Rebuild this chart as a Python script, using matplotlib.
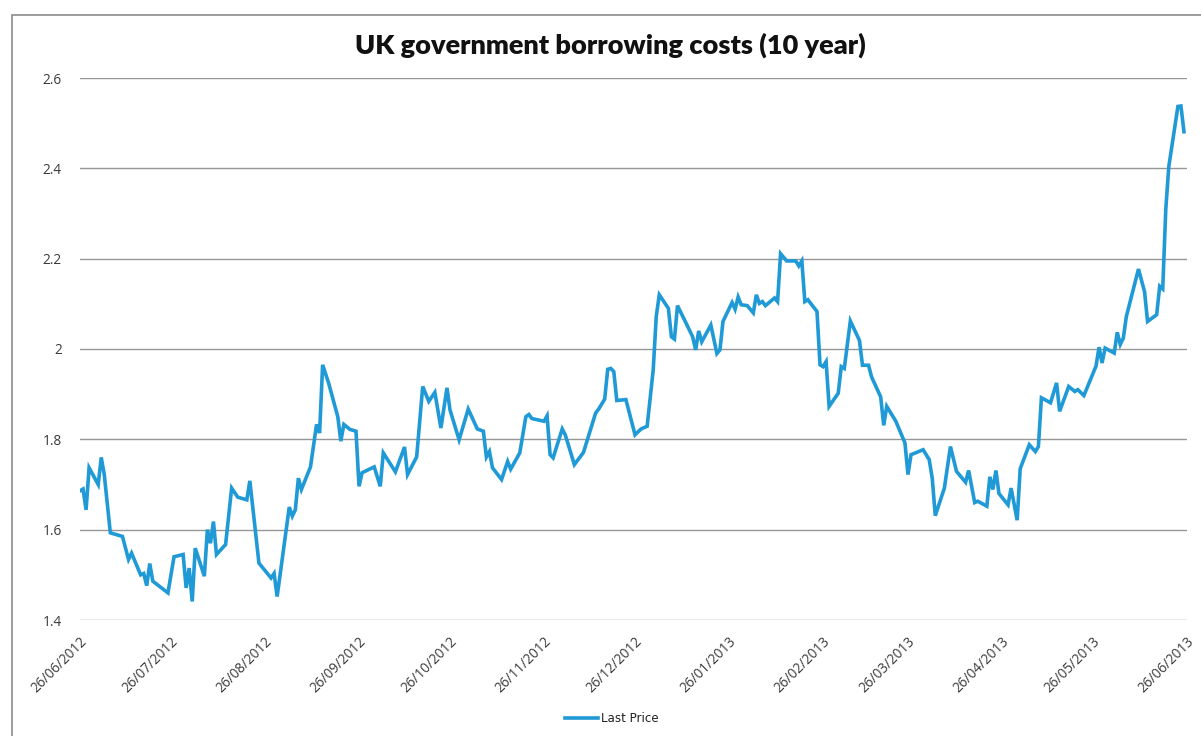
import datetime as dt
import matplotlib
matplotlib.use("Agg")
import matplotlib.pyplot as plt
import matplotlib.dates as mdates
from matplotlib.patches import Rectangle
from matplotlib.ticker import FixedLocator, FuncFormatter

# ---- data ----
start_date = dt.date(2012, 6, 26)
day_offsets = [
    0, 1, 2, 3, 6, 7, 8, 10, 14, 16, 17, 20, 21, 22, 23, 24, 29, 31, 34, 35,
    36, 37, 38, 41, 42, 43, 44, 45, 48, 50, 52, 55, 56, 59, 63, 64, 65, 69, 70, 71,
    72, 73, 76, 78, 79, 80, 82, 85, 86, 87, 89, 91, 92, 93, 97, 99, 100, 104, 107, 108,
    111, 113, 115, 117, 119, 121, 122, 125, 128, 131, 133, 134, 135, 136, 139, 141, 142, 145, 147, 148,
    149, 153, 154, 155, 156, 159, 160, 163, 166, 170, 171, 173, 174, 175, 176, 177, 180, 183, 185, 187,
    189, 190, 191, 194, 195, 196, 197, 200, 202, 203, 204, 205, 208, 210, 211, 212, 215, 216, 217, 218,
    220, 222, 223, 224, 225, 226, 229, 230, 231, 233, 236, 237, 238, 239, 240, 243, 244, 245, 246, 247,
    250, 251, 252, 254, 257, 258, 260, 261, 264, 265, 266, 269, 272, 273, 274, 278, 280, 281, 282, 285,
    287, 289, 292, 293, 295, 296, 299, 300, 301, 302, 303, 306, 307, 309, 310, 312, 313, 315, 316, 317,
    320, 322, 323, 326, 328, 329, 331, 335, 336, 337, 338, 341, 342, 343, 344, 345, 349, 351, 352, 355,
    356, 357, 358, 359, 362, 363, 364,
]
last_price = [
    1.686, 1.690, 1.644, 1.737, 1.700, 1.760, 1.722, 1.593, 1.585, 1.534, 1.548, 1.500, 1.503, 1.476, 1.525, 1.486, 1.460, 1.540, 1.545, 1.471,
    1.515, 1.441, 1.559, 1.497, 1.600, 1.570, 1.618, 1.545, 1.567, 1.692, 1.672, 1.666, 1.708, 1.526, 1.493, 1.503, 1.452, 1.650, 1.630, 1.644,
    1.714, 1.689, 1.739, 1.833, 1.814, 1.965, 1.924, 1.850, 1.796, 1.833, 1.822, 1.818, 1.696, 1.726, 1.739, 1.696, 1.770, 1.728, 1.783, 1.722,
    1.761, 1.917, 1.884, 1.904, 1.825, 1.914, 1.865, 1.799, 1.867, 1.823, 1.818, 1.761, 1.773, 1.737, 1.711, 1.751, 1.734, 1.770, 1.850, 1.855,
    1.846, 1.840, 1.852, 1.766, 1.759, 1.823, 1.810, 1.744, 1.771, 1.858, 1.867, 1.889, 1.955, 1.957, 1.950, 1.886, 1.888, 1.810, 1.823, 1.829,
    1.954, 2.072, 2.120, 2.090, 2.027, 2.022, 2.096, 2.055, 2.027, 1.998, 2.040, 2.016, 2.053, 1.990, 1.998, 2.061, 2.103, 2.088, 2.115, 2.098,
    2.096, 2.080, 2.120, 2.101, 2.105, 2.096, 2.113, 2.105, 2.211, 2.195, 2.195, 2.184, 2.195, 2.105, 2.109, 2.083, 1.965, 1.961, 1.972, 1.873,
    1.902, 1.961, 1.957, 2.062, 2.019, 1.964, 1.964, 1.938, 1.894, 1.831, 1.873, 1.840, 1.792, 1.722, 1.766, 1.777, 1.755, 1.714, 1.631, 1.692,
    1.784, 1.729, 1.705, 1.731, 1.660, 1.663, 1.652, 1.717, 1.689, 1.731, 1.680, 1.655, 1.692, 1.621, 1.735, 1.770, 1.788, 1.773, 1.784, 1.892,
    1.881, 1.925, 1.862, 1.917, 1.906, 1.910, 1.897, 1.962, 2.004, 1.969, 2.002, 1.991, 2.037, 2.010, 2.024, 2.072, 2.177, 2.127, 2.061, 2.076,
    2.139, 2.133, 2.309, 2.404, 2.537, 2.538, 2.481,
]
tick_dates = [dt.date(2012, m, 26) for m in range(6, 13)] + [dt.date(2013, m, 26) for m in range(1, 7)]
y_ticks = [1.4, 1.6, 1.8, 2.0, 2.2, 2.4, 2.6]
title = "UK government borrowing costs (10 year)"
series_name = "Last Price"

dates = [start_date + dt.timedelta(days=d) for d in day_offsets]

# ---- figure ----
W, H = 1201, 736
fig = plt.figure(figsize=(W / 100, H / 100), dpi=100)
fig.patch.set_facecolor("white")

# outer frame (left and top edges visible)
fig.patches.append(Rectangle((12 / W, -0.05), 1.2, 1 - 15 / H + 0.05,
                             transform=fig.transFigure, fill=False,
                             edgecolor="#8c8c8c", linewidth=1.2))

ax = fig.add_axes([80 / W, 1 - 620 / H, (1187 - 80) / W, (620 - 78) / H])
ax.set_facecolor("none")
line_color = "#1f9ad6"
ax.plot(dates, last_price, color=line_color, linewidth=2.6,
        solid_joinstyle="miter", label=series_name)

ax.set_ylim(1.4, 2.6)
ax.set_xlim(start_date - dt.timedelta(days=0.6), dt.date(2013, 6, 26) + dt.timedelta(days=0.3))
ax.yaxis.set_major_locator(FixedLocator(y_ticks))
ax.yaxis.set_major_formatter(FuncFormatter(lambda v, p: f"{v:g}"))
ax.xaxis.set_major_locator(FixedLocator([mdates.date2num(d) for d in tick_dates]))
ax.xaxis.set_major_formatter(mdates.DateFormatter("%d/%m/%Y"))

ax.grid(axis="y", color="#969696", linewidth=1.0)
ax.set_axisbelow(True)
for s in ax.spines.values():
    s.set_visible(False)
ax.tick_params(axis="both", length=0, colors="#3a3a3a", labelsize=9.8)
ax.tick_params(axis="y", pad=13)
ax.tick_params(axis="x", pad=10)
for lab in ax.get_xticklabels():
    lab.set_rotation(45)
    lab.set_ha("right")
    lab.set_rotation_mode("anchor")
    lab.set_fontfamily("Open Sans")
for lab in ax.get_yticklabels():
    lab.set_fontfamily("Open Sans")

fig.text(610 / W, 1 - 45 / H, title, ha="center", va="center",
         fontsize=19.5, fontweight="heavy", family="Lato", color="#111111")

leg = fig.legend(loc="center", bbox_to_anchor=(612 / W, 1 - 719 / H), frameon=False,
                 handlelength=2.8, handletextpad=0.25,
                 prop={"family": "DejaVu Sans", "size": 8.6})
for t in leg.get_texts():
    t.set_color("#222222")

fig.savefig("out.png", dpi=100)
